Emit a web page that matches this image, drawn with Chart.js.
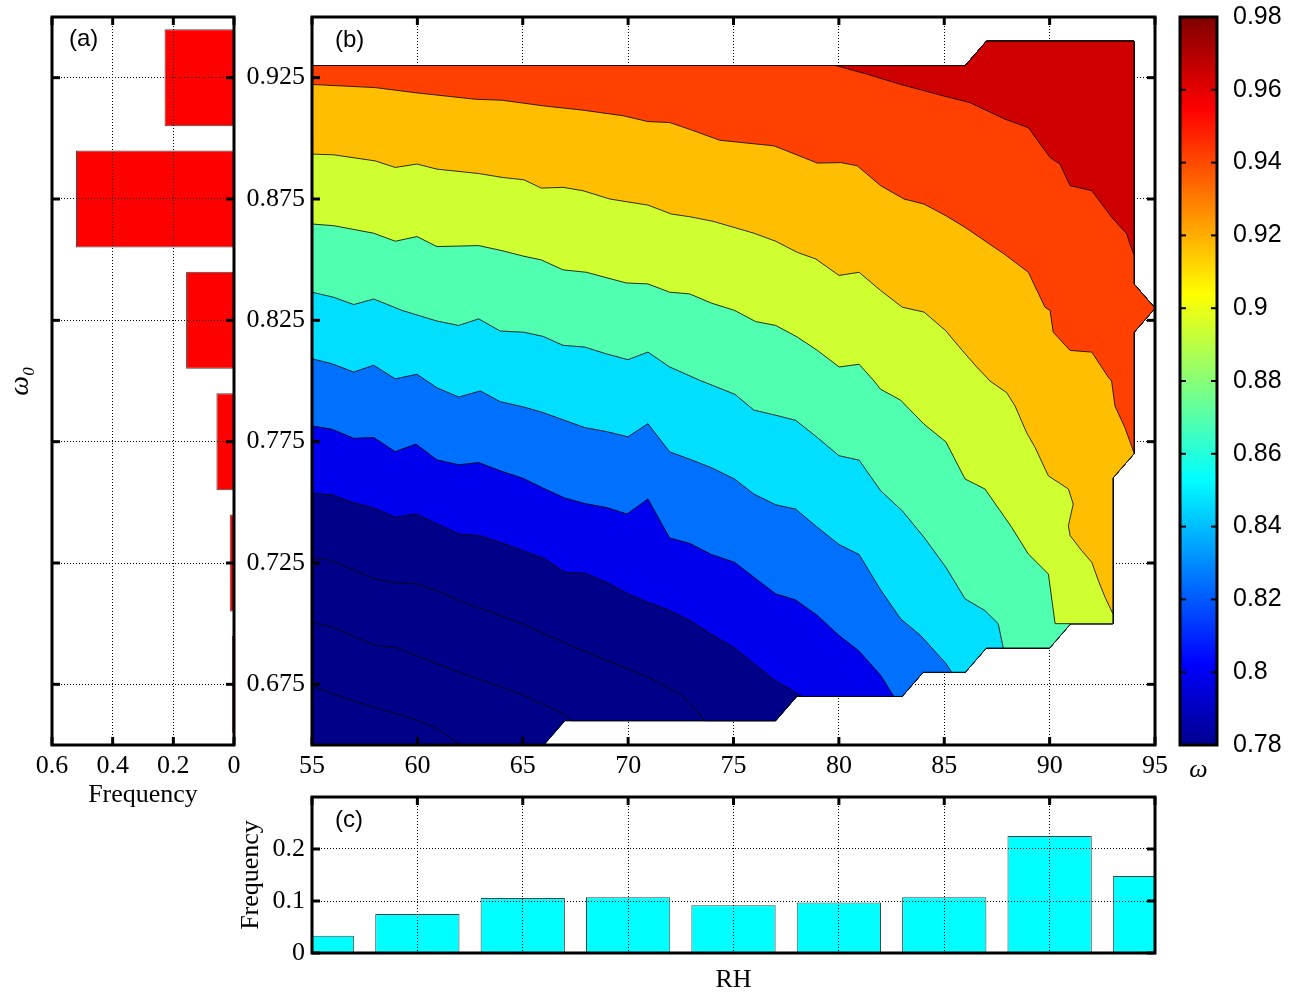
<!DOCTYPE html>
<html>
<head>
<meta charset="utf-8">
<title>Single scattering albedo vs RH</title>
<script src="https://cdn.jsdelivr.net/npm/chart.js@4.4.1/dist/chart.umd.min.js"></script>
<style>
  html, body { margin: 0; padding: 0; background: #fff; }
  #fig { position: relative; width: 1290px; height: 997px; overflow: hidden; }
  #fig canvas { position: absolute; }
</style>
</head>
<body>
<div id="fig">
  <canvas id="histOmega" width="244" height="820" style="left:0px;top:0px"></canvas>
  <canvas id="contour" width="934" height="790" style="left:236px;top:0px"></canvas>
  <canvas id="histRH" width="940" height="212" style="left:230px;top:785px"></canvas>
  <canvas id="colorbar" width="120" height="800" style="left:1170px;top:0px"></canvas>
</div>
<script>
// -------------------- DATA --------------------
// (a) frequency of omega0
const omegaBins = [0.675, 0.725, 0.775, 0.825, 0.875, 0.925];
const omegaFreq = [0.007, 0.014, 0.058, 0.158, 0.521, 0.229];

// (c) frequency of RH
const rhBins = [55, 60, 65, 70, 75, 80, 85, 90, 95];
const rhFreq = [0.033, 0.075, 0.106, 0.107, 0.092, 0.097, 0.107, 0.225, 0.148];

// tick values
const rhTicks = [55, 60, 65, 70, 75, 80, 85, 90, 95];
const omegaTicks = [0.675, 0.725, 0.775, 0.825, 0.875, 0.925];
const freqTicksA = [0, 0.2, 0.4, 0.6];
const freqTicksC = [0, 0.1, 0.2];
const cbarTicks = [0.78, 0.8, 0.82, 0.84, 0.86, 0.88, 0.9, 0.92, 0.94, 0.96, 0.98];

// (b) outline of the data domain [RH, omega0], clockwise from top-left
const domainEdge = [[55, 0.93], [86, 0.93], [87, 0.94], [94, 0.94], [94, 0.84], [95, 0.83],
  [94, 0.82], [94, 0.77], [93, 0.76], [93, 0.70], [91, 0.70], [90, 0.69], [87, 0.69],
  [86, 0.68], [84, 0.68], [83, 0.67], [78, 0.67], [77, 0.66], [67, 0.66], [66, 0.65], [55, 0.65]];

// (b) contour lines [RH, omega0], highest level first
const edgeDarkRed = [[79.85, 0.930], [81.35, 0.9264], [82.93, 0.9222], [85.08, 0.9172], [86.22, 0.9147],
  [87.88, 0.9079], [88.99, 0.9044], [90.02, 0.8921], [90.49, 0.8894], [90.97, 0.8805], [92.0, 0.8784],
  [92.95, 0.8674], [93.66, 0.8606], [93.81, 0.8565], [94, 0.8521]];
const edgeRed = [[55, 0.9222], [58, 0.9209], [59.9, 0.9188], [62.75, 0.9161], [64.02, 0.9157],
  [65.96, 0.9134], [67.86, 0.9116], [69.76, 0.9093], [70.94, 0.9069], [71.97, 0.9065], [72.92, 0.9037],
  [74.35, 0.8992], [76.92, 0.8969], [78.98, 0.8898], [80.09, 0.8900], [80.87, 0.8887], [81.98, 0.8805],
  [83.09, 0.8750], [84.04, 0.8729], [85.08, 0.8681], [85.99, 0.8633], [87.88, 0.8521], [88.99, 0.8448],
  [89.78, 0.8304], [90.02, 0.8291], [90.17, 0.8201], [90.97, 0.8126], [92.0, 0.8119], [92.78, 0.8016],
  [92.94, 0.8000], [93.1, 0.7897], [93.57, 0.7808], [94, 0.7705]];
const edgeOrange = [[55, 0.8935], [56.03, 0.8932], [58.0, 0.8907], [58.95, 0.8880], [59.98, 0.8894],
  [60.93, 0.8873], [62.91, 0.8855], [64.02, 0.8839], [65.06, 0.8829], [65.88, 0.8795], [66.91, 0.8798],
  [67.86, 0.8784], [69.13, 0.8750], [69.91, 0.8739], [70.94, 0.8725], [72.05, 0.8688], [72.92, 0.8677],
  [74.03, 0.8658], [75.97, 0.8609], [77.0, 0.8576], [78.03, 0.8530], [78.9, 0.8503], [80.01, 0.8435],
  [80.96, 0.8448], [81.98, 0.8373], [83.01, 0.8304], [84.04, 0.8284], [85.06, 0.8208], [85.99, 0.8112],
  [86.54, 0.8058], [87.17, 0.8000], [87.96, 0.7952], [88.36, 0.7897], [88.91, 0.7787], [89.31, 0.7726],
  [89.94, 0.7609], [90.89, 0.7555], [91.12, 0.7493], [90.89, 0.7404], [90.97, 0.7363], [91.52, 0.7301],
  [92.0, 0.7253], [92.31, 0.7178], [92.63, 0.7109], [93, 0.7041]];
const edgeYellow = [[55, 0.8647], [56.03, 0.8640], [57.93, 0.8609], [58.95, 0.8576], [59.98, 0.8595],
  [60.93, 0.8554], [62.91, 0.8558], [64.02, 0.8537], [65.06, 0.8514], [65.88, 0.8499], [66.91, 0.8458],
  [68.02, 0.8448], [69.91, 0.8404], [70.94, 0.8400], [71.97, 0.8366], [72.92, 0.8359], [73.95, 0.8321],
  [75.05, 0.8291], [76.05, 0.8245], [77.0, 0.8229], [78.03, 0.8181], [78.98, 0.8126], [80.01, 0.8058],
  [80.96, 0.8069], [81.67, 0.8000], [81.98, 0.7966], [82.93, 0.7921], [84.04, 0.7822], [85.08, 0.7749],
  [85.99, 0.7596], [86.93, 0.7555], [88.2, 0.7397], [88.99, 0.7287], [89.94, 0.7205], [90.26, 0.7000]];
const edgeGreen = [[55, 0.8366], [56.03, 0.8345], [56.98, 0.8315], [57.93, 0.8338], [59.27, 0.8291],
  [60.93, 0.8247], [61.96, 0.8229], [62.91, 0.8256], [63.93, 0.8206], [65.06, 0.8201], [65.96, 0.8184],
  [66.91, 0.8147], [67.94, 0.8140], [68.96, 0.8112], [69.99, 0.8088], [70.94, 0.8119], [71.97, 0.8058],
  [73.4, 0.8003], [75.07, 0.7945], [75.97, 0.7880], [77.0, 0.7859], [77.95, 0.7838], [78.98, 0.7767],
  [80.01, 0.7692], [80.96, 0.7674], [81.98, 0.7548], [83.01, 0.7465], [84.04, 0.7356], [85.08, 0.7232],
  [85.99, 0.7102], [86.93, 0.7054], [87.56, 0.7000], [87.8, 0.6900]];
const edgeCyan = [[55, 0.8092], [55.95, 0.8071], [56.98, 0.8037], [57.93, 0.8065], [58.95, 0.8009],
  [59.98, 0.8028], [60.93, 0.7972], [61.96, 0.7934], [62.99, 0.7959], [63.93, 0.7915], [65.04, 0.7893],
  [65.96, 0.7870], [67.94, 0.7808], [68.96, 0.7792], [69.99, 0.7770], [70.94, 0.7824], [71.97, 0.7708],
  [72.92, 0.7678], [73.95, 0.7643], [75.05, 0.7596], [75.97, 0.7534], [77.0, 0.7490], [77.95, 0.7472],
  [78.98, 0.7397], [80.01, 0.7326], [80.96, 0.7285], [81.98, 0.7139], [82.93, 0.7020], [83.88, 0.6951],
  [85.08, 0.6836], [85.35, 0.6800]];
const edgeAzure = [[55, 0.7815], [55.95, 0.7801], [56.98, 0.7764], [57.93, 0.7767], [58.95, 0.7709],
  [59.93, 0.7740], [60.93, 0.7675], [61.96, 0.7655], [62.91, 0.7664], [63.93, 0.7630], [65.04, 0.7598],
  [65.96, 0.7559], [66.99, 0.7518], [67.94, 0.7495], [68.96, 0.7479], [69.95, 0.7452], [70.94, 0.7514],
  [71.97, 0.7353], [72.92, 0.7331], [73.95, 0.7285], [75.05, 0.7253], [75.97, 0.7191], [77.0, 0.7123],
  [77.95, 0.7098], [78.98, 0.7034], [80.01, 0.6951], [80.96, 0.6887], [81.98, 0.6787], [82.61, 0.6700]];
const edgeBlue = [[55, 0.7538], [55.95, 0.7531], [56.9, 0.7500], [57.93, 0.7477], [58.95, 0.7438],
  [59.93, 0.7452], [60.93, 0.7411], [61.96, 0.7370], [62.91, 0.7363], [63.93, 0.7335], [65.04, 0.7300],
  [66.04, 0.7267], [66.99, 0.7212], [67.94, 0.7208], [68.96, 0.7171], [69.99, 0.7123], [70.94, 0.7088],
  [71.97, 0.7054], [72.92, 0.7013], [73.95, 0.6956], [75.05, 0.6900], [75.97, 0.6835], [76.92, 0.6769],
  [78.03, 0.6712], [78.26, 0.6700]];
const edgeNavy1 = [[55, 0.7271], [55.95, 0.7260], [57.93, 0.7185], [58.95, 0.7168], [59.98, 0.7164],
  [60.93, 0.7137], [61.96, 0.7095], [62.91, 0.7064], [63.93, 0.7034], [65.04, 0.6997], [67.07, 0.6917],
  [68.96, 0.6849], [70.94, 0.6780], [72.45, 0.6712], [73.23, 0.6643], [73.63, 0.6600]];
const edgeNavy2 = [[55, 0.7004], [55.95, 0.6986], [58.0, 0.6910], [58.95, 0.6903], [60.93, 0.6835],
  [61.96, 0.6801], [63.54, 0.6753], [65.04, 0.6705], [66.99, 0.6625], [67.3, 0.6600]];
const edgeNavy3 = [[55, 0.6742], [56.98, 0.6681], [58.95, 0.6630], [59.98, 0.6602], [60.93, 0.6568],
  [62.04, 0.6500]];

// bands drawn bottom to top: contour edge, domain corners it closes over, fill colour
const bands = [
  { edge: null, from: 0, to: 20, color: "#000088" },
  { edge: edgeNavy3, from: 0, to: 19, color: "#000088" },
  { edge: edgeNavy2, from: 0, to: 17, color: "#000088" },
  { edge: edgeNavy1, from: 0, to: 17, color: "#000088" },
  { edge: edgeBlue, from: 0, to: 15, color: "#0000EF" },
  { edge: edgeAzure, from: 0, to: 15, color: "#0070FF" },
  { edge: edgeCyan, from: 0, to: 13, color: "#00DFFF" },
  { edge: edgeGreen, from: 0, to: 11, color: "#50FFAF" },
  { edge: edgeYellow, from: 0, to: 9, color: "#CFFF30" },
  { edge: edgeOrange, from: 0, to: 8, color: "#FFBF00" },
  { edge: edgeRed, from: 0, to: 6, color: "#FF4000" },
  { edge: edgeDarkRed, from: 1, to: 3, color: "#CF0000" }
];

// -------------------- HELPERS --------------------
const serif = "'Liberation Serif', 'Times New Roman', serif";
const sans = "'Liberation Sans', Arial, sans-serif";

Chart.defaults.font.family = serif;
Chart.defaults.color = "#000";

function superlevel(band) {
    let pts;
    if (!band.edge) {
        pts = domainEdge.slice();
    } else {
        pts = band.edge.concat(domainEdge.slice(band.from, band.to + 1).reverse());
    }
    pts.push(pts[0]);
    return pts.map(([x, y]) => ({ x, y }));
}

function setTicks(values) {
    return scale => { scale.ticks = values.map(v => ({ value: v })); };
}

function fixSize(size) {
    return scale => {
        if (scale.isHorizontal()) scale.height = size;
        else scale.width = size;
        scale.paddingTop = scale.paddingBottom = 0;
        scale.paddingLeft = scale.paddingRight = 0;
    };
}

// grid under the data (contour) or over it (histograms)
function dottedGrid(z) {
    return { color: "#000", lineWidth: 1, drawTicks: false, offset: false, z: z };
}
const dottedBorder = { display: false, dash: [1, 2] };

function jetGradient(chart) {
    const a = chart.chartArea;
    if (!a) return "#000";
    const g = chart.ctx.createLinearGradient(0, a.bottom, 0, a.top);
    g.addColorStop(0, "#00008F");
    g.addColorStop(7 / 63, "#0000FF");
    g.addColorStop(23 / 63, "#00FFFF");
    g.addColorStop(39 / 63, "#FFFF00");
    g.addColorStop(55 / 63, "#FF0000");
    g.addColorStop(1, "#800000");
    return g;
}

// box, inward ticks and panel letter
const axesBox = {
    id: "axesBox",
    afterDraw(chart, args, opts) {
        const { ctx, chartArea: a } = chart;
        const len = opts.tickLength || 8;
        ctx.save();
        ctx.strokeStyle = "#000";
        ctx.lineWidth = opts.tickWidth || 3;
        (opts.sides || []).forEach(side => {
            const horiz = side === "top" || side === "bottom";
            const scale = chart.scales[horiz ? "x" : "y"];
            scale.ticks.forEach(t => {
                const p = scale.getPixelForValue(t.value);
                ctx.beginPath();
                if (side === "top") { ctx.moveTo(p, a.top); ctx.lineTo(p, a.top + len); }
                if (side === "bottom") { ctx.moveTo(p, a.bottom); ctx.lineTo(p, a.bottom - len); }
                if (side === "left") { ctx.moveTo(a.left, p); ctx.lineTo(a.left + len, p); }
                if (side === "right") { ctx.moveTo(a.right, p); ctx.lineTo(a.right - len, p); }
                ctx.stroke();
            });
        });
        ctx.lineWidth = opts.frameWidth || 3;
        ctx.strokeRect(a.left, a.top, a.right - a.left, a.bottom - a.top);
        if (opts.label) {
            ctx.fillStyle = "#000";
            ctx.font = opts.labelFont;
            ctx.textAlign = "left";
            ctx.textBaseline = "middle";
            ctx.fillText(opts.label, a.left + opts.labelX, a.top + opts.labelY);
        }
        ctx.restore();
    }
};

const noLegend = { display: false };
const noTooltip = { enabled: false };

// -------------------- (a) OMEGA HISTOGRAM --------------------
new Chart(document.getElementById("histOmega"), {
    type: "bar",
    data: {
        datasets: [{
            data: omegaBins.map((w, i) => ({ x: omegaFreq[i], y: w })),
            backgroundColor: "#FF0000",
            borderColor: "#444",
            borderWidth: 1,
            barPercentage: 0.8,
            categoryPercentage: 1,
            clip: 0
        }]
    },
    options: {
        indexAxis: "y",
        responsive: false,
        animation: false,
        layout: { padding: { left: 0, top: 17, right: 10, bottom: 0 } },
        plugins: {
            legend: noLegend,
            tooltip: noTooltip,
            axesBox: {
                sides: ["top", "bottom", "left", "right"],
                label: "(a)", labelFont: "24px " + sans, labelX: 17, labelY: 22
            }
        },
        scales: {
            x: {
                type: "linear", reverse: true, min: 0, max: 0.6, offset: false,
                afterBuildTicks: setTicks(freqTicksA),
                afterFit: fixSize(75),
                ticks: { padding: 6, font: { size: 26 }, callback: v => String(v) },
                grid: dottedGrid(1), border: dottedBorder,
                title: { display: true, text: "Frequency", font: { size: 26 }, padding: { top: 0, bottom: 9 } }
            },
            y: {
                type: "linear", min: 0.65, max: 0.95, offset: false,
                afterBuildTicks: setTicks(omegaTicks),
                afterFit: fixSize(52),
                ticks: { display: false },
                grid: dottedGrid(1), border: dottedBorder,
                title: { display: true, text: "ω₀", font: { size: 28, style: "italic" }, padding: { top: 4, bottom: 0 } }
            }
        }
    },
    plugins: [axesBox]
});

// -------------------- (b) CONTOUR --------------------
new Chart(document.getElementById("contour"), {
    type: "line",
    data: {
        datasets: bands.map((band, i) => ({
            data: superlevel(band),
            backgroundColor: band.color,
            borderColor: "#000",
            borderWidth: 0.8,
            fill: "shape",
            pointRadius: 0,
            pointHoverRadius: 0,
            tension: 0,
            clip: 0,
            order: bands.length - i
        }))
    },
    options: {
        responsive: false,
        animation: false,
        layout: { padding: { left: 0, top: 17, right: 15, bottom: 0 } },
        plugins: {
            legend: noLegend,
            tooltip: noTooltip,
            axesBox: {
                sides: ["top", "bottom", "left", "right"],
                label: "(b)", labelFont: "24px " + sans, labelX: 23, labelY: 23
            }
        },
        scales: {
            x: {
                type: "linear", min: 55, max: 95,
                afterBuildTicks: setTicks(rhTicks),
                afterFit: fixSize(45),
                ticks: { padding: 6, font: { size: 26 }, callback: v => String(v) },
                grid: dottedGrid(0), border: dottedBorder
            },
            y: {
                type: "linear", min: 0.65, max: 0.95,
                afterBuildTicks: setTicks(omegaTicks),
                afterFit: fixSize(76),
                ticks: { padding: 7, font: { size: 26 }, callback: v => String(v) },
                grid: dottedGrid(0), border: dottedBorder
            }
        }
    },
    plugins: [axesBox]
});

// -------------------- (c) RH HISTOGRAM --------------------
new Chart(document.getElementById("histRH"), {
    type: "bar",
    data: {
        datasets: [{
            data: rhBins.map((rh, i) => ({ x: rh, y: rhFreq[i] })),
            backgroundColor: "#00FFFF",
            borderColor: "#444",
            borderWidth: 1,
            barPercentage: 0.8,
            categoryPercentage: 1,
            clip: 0
        }]
    },
    options: {
        responsive: false,
        animation: false,
        layout: { padding: { left: 0, top: 12, right: 15, bottom: 0 } },
        plugins: {
            legend: noLegend,
            tooltip: noTooltip,
            axesBox: {
                sides: ["top", "left", "right"],
                label: "(c)", labelFont: "24px " + sans, labelX: 23, labelY: 23
            }
        },
        scales: {
            x: {
                type: "linear", min: 55, max: 95, offset: false,
                afterBuildTicks: setTicks(rhTicks),
                afterFit: fixSize(44),
                ticks: { display: false },
                grid: dottedGrid(1), border: dottedBorder,
                title: { display: true, text: "RH", font: { size: 26 }, padding: { top: 0, bottom: 1 } }
            },
            y: {
                type: "linear", min: 0, max: 0.3, offset: false,
                afterBuildTicks: setTicks(freqTicksC),
                afterFit: fixSize(82),
                ticks: { padding: 7, font: { size: 26 }, callback: v => String(v) },
                grid: dottedGrid(1), border: dottedBorder,
                title: { display: true, text: "Frequency", font: { size: 26 }, padding: { top: 6, bottom: 0 } }
            }
        }
    },
    plugins: [axesBox]
});

// -------------------- COLORBAR --------------------
new Chart(document.getElementById("colorbar"), {
    type: "bar",
    data: {
        labels: [""],
        datasets: [{
            data: [[cbarTicks[0], cbarTicks[cbarTicks.length - 1]]],
            backgroundColor: c => jetGradient(c.chart),
            borderWidth: 0,
            barPercentage: 1,
            categoryPercentage: 1
        }]
    },
    options: {
        responsive: false,
        animation: false,
        layout: { padding: { left: 10, top: 17, right: 0, bottom: 0 } },
        plugins: {
            legend: noLegend,
            tooltip: noTooltip,
            axesBox: { sides: ["left", "right"], tickLength: 6, tickWidth: 2 }
        },
        scales: {
            x: {
                afterFit: fixSize(55),
                ticks: { display: false },
                grid: { display: false },
                border: { display: false },
                title: { display: true, text: "ω", font: { size: 26, style: "italic" }, padding: { top: 0, bottom: 14 } }
            },
            y: {
                position: "right", min: 0.78, max: 0.98,
                afterBuildTicks: setTicks(cbarTicks),
                afterFit: fixSize(73),
                ticks: { padding: 8, font: { size: 25, family: sans }, callback: v => String(v) },
                grid: { display: false },
                border: { display: false }
            }
        }
    },
    plugins: [axesBox]
});
</script>
</body>
</html>
